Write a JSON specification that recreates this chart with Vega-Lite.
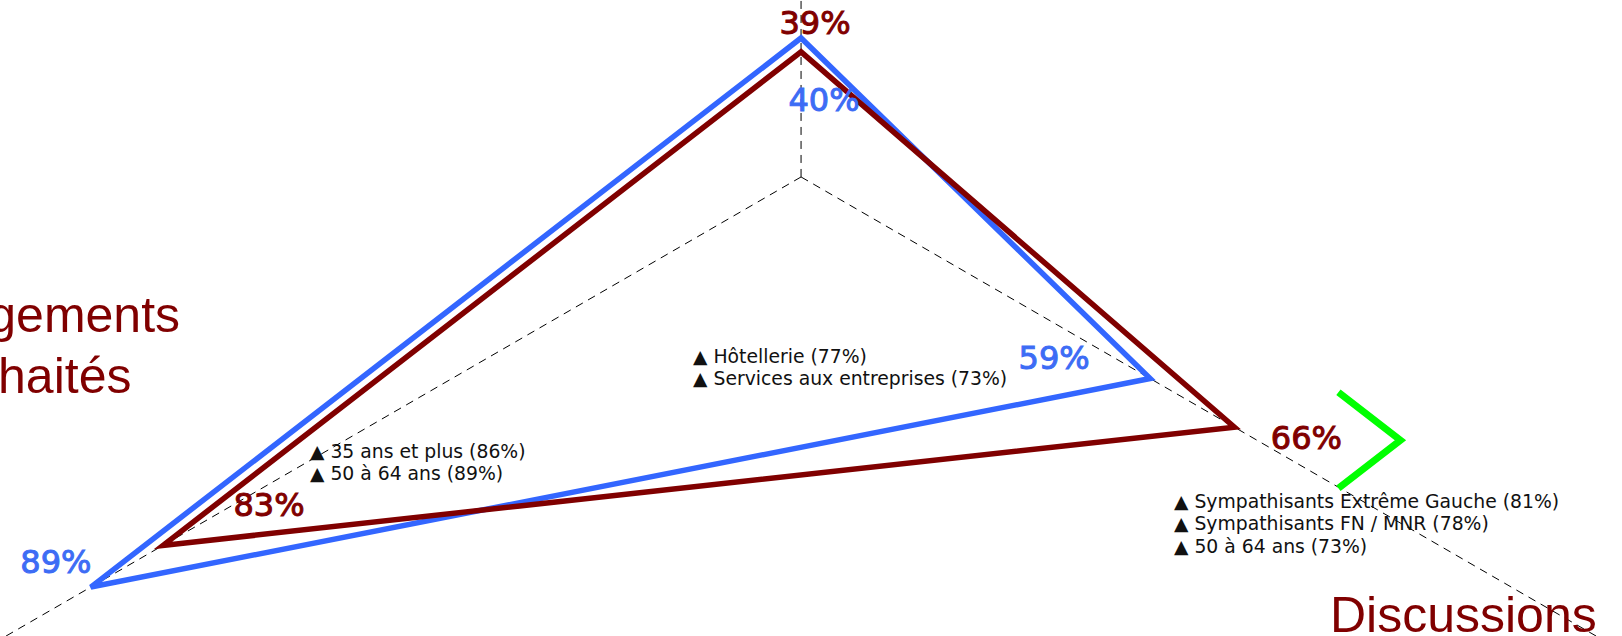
{
  "$schema": "https://vega.github.io/schema/vega-lite/v6.json",
  "width": 1622,
  "height": 636,
  "padding": 0,
  "autosize": {"type": "none"},
  "background": "white",
  "config": {"view": {"stroke": null}},
  "datasets": {
    "axes": [
      {"axe": "haut", "deg": 90, "ordre": 1, "min": 0.3, "max": 1.0, "titre": ""},
      {"axe": "droite", "deg": -30, "ordre": 2, "min": 0.3, "max": 1.0, "titre": "Discussions"},
      {"axe": "gauche", "deg": 210, "ordre": 3, "min": 0.3, "max": 1.0, "titre": "Changements\nsouhaités"}
    ],
    "series": [
      {"serie": "Série 1", "axe": "haut", "valeur": 0.40},
      {"serie": "Série 1", "axe": "droite", "valeur": 0.59},
      {"serie": "Série 1", "axe": "gauche", "valeur": 0.89},
      {"serie": "Série 2", "axe": "haut", "valeur": 0.39},
      {"serie": "Série 2", "axe": "droite", "valeur": 0.66},
      {"serie": "Série 2", "axe": "gauche", "valeur": 0.83}
    ],
    "notes": [
      {"axe": "haut", "texte": "▲ Hôtellerie (77%)\n▲ Services aux entreprises (73%)"},
      {"axe": "gauche", "texte": "▲ 35 ans et plus (86%)\n▲ 50 à 64 ans (89%)"},
      {"axe": "droite", "texte": "▲ Sympathisants Extrême Gauche (81%)\n▲ Sympathisants FN / MNR (78%)\n▲ 50 à 64 ans (73%)"}
    ]
  },
  "layer": [
    {
      "data": {"name": "axes"},
      "transform": [
        {"calculate": "(datum.min - 0.3) * 100", "as": "r0"},
        {"calculate": "(datum.max - 0.3) * 100", "as": "r1"},
        {"calculate": "datum.r0 * cos(datum.deg * PI / 180)", "as": "x"},
        {"calculate": "datum.r0 * sin(datum.deg * PI / 180)", "as": "y"},
        {"calculate": "datum.r1 * cos(datum.deg * PI / 180)", "as": "x2"},
        {"calculate": "datum.r1 * sin(datum.deg * PI / 180)", "as": "y2"}
      ],
      "layer": [
        {
          "mark": {"type": "rule", "stroke": "#000000", "strokeWidth": 1, "strokeDash": [8, 6], "clip": true},
          "encoding": {
            "x": {"field": "x", "type": "quantitative", "scale": {"domain": [-57.63, 59.06], "nice": false, "zero": false}, "axis": null},
            "y": {"field": "y", "type": "quantitative", "scale": {"domain": [-33.02, 12.73], "nice": false, "zero": false}, "axis": null},
            "x2": {"field": "x2"},
            "y2": {"field": "y2"}
          }
        },
        {
          "transform": [{"filter": "datum.axe == 'droite'"}],
          "mark": {"type": "text", "font": "Liberation Sans", "fontSize": 50, "fill": "#800000", "align": "right", "baseline": "alphabetic", "dx": -47, "dy": -31.5, "lineBreak": "\n"},
          "encoding": {
            "x": {"field": "x2", "type": "quantitative"},
            "y": {"field": "y2", "type": "quantitative"},
            "text": {"field": "titre"}
          }
        },
        {
          "transform": [{"filter": "datum.axe == 'gauche'"}],
          "mark": {"type": "text", "font": "Liberation Sans", "fontSize": 50, "fill": "#800000", "align": "center", "baseline": "alphabetic", "dx": 66, "dy": -331.5, "lineBreak": "\n", "lineHeight": 61},
          "encoding": {
            "x": {"field": "x2", "type": "quantitative"},
            "y": {"field": "y2", "type": "quantitative"},
            "text": {"field": "titre"}
          }
        }
      ]
    },
    {
      "data": {"name": "notes"},
      "layer": [
        {
          "transform": [{"filter": "datum.axe == 'haut'"}],
          "mark": {"type": "text", "font": "DejaVu Sans", "fontSize": 18.8, "fill": "#111111", "align": "left", "baseline": "alphabetic", "lineBreak": "\n", "lineHeight": 22.5},
          "encoding": {
            "x": {"datum": -7.77, "type": "quantitative"},
            "y": {"datum": -13.38, "type": "quantitative"},
            "text": {"field": "texte"}
          }
        },
        {
          "transform": [{"filter": "datum.axe == 'gauche'"}],
          "mark": {"type": "text", "font": "DejaVu Sans", "fontSize": 18.8, "fill": "#111111", "align": "left", "baseline": "alphabetic", "lineBreak": "\n", "lineHeight": 22.5},
          "encoding": {
            "x": {"datum": -35.33, "type": "quantitative"},
            "y": {"datum": -20.21, "type": "quantitative"},
            "text": {"field": "texte"}
          }
        },
        {
          "transform": [{"filter": "datum.axe == 'droite'"}],
          "mark": {"type": "text", "font": "DejaVu Sans", "fontSize": 18.8, "fill": "#111111", "align": "left", "baseline": "alphabetic", "lineBreak": "\n", "lineHeight": 22.5},
          "encoding": {
            "x": {"datum": 26.83, "type": "quantitative"},
            "y": {"datum": -23.81, "type": "quantitative"},
            "text": {"field": "texte"}
          }
        }
      ]
    },
    {
      "data": {"name": "series"},
      "transform": [
        {"lookup": "axe", "from": {"data": {"name": "axes"}, "key": "axe", "fields": ["deg", "ordre"]}},
        {"calculate": "(datum.valeur - 0.3) * 100", "as": "r"},
        {"calculate": "datum.r * cos(datum.deg * PI / 180)", "as": "x"},
        {"calculate": "datum.r * sin(datum.deg * PI / 180)", "as": "y"}
      ],
      "encoding": {
        "x": {"field": "x", "type": "quantitative"},
        "y": {"field": "y", "type": "quantitative"}
      },
      "layer": [
        {
          "mark": {"type": "line", "interpolate": "linear-closed", "strokeWidth": 5.5, "strokeJoin": "miter"},
          "encoding": {
            "color": {"field": "serie", "type": "nominal", "scale": {"domain": ["Série 1", "Série 2"], "range": ["#3366ff", "#800000"]}, "legend": null},
            "order": {"field": "ordre", "type": "quantitative"}
          }
        },
        {
          "transform": [{"filter": "datum.serie == 'Série 2' && datum.axe == 'droite'"}],
          "mark": {"type": "point", "shape": "M -0.646 -1 L 0.646 0 L -0.646 1", "size": 9216, "filled": false, "stroke": "#00ff00", "strokeWidth": 7, "strokeJoin": "miter", "opacity": 1, "xOffset": 135, "yOffset": 13}
        },
        {
          "transform": [{"filter": "datum.serie == 'Série 1' && datum.axe == 'haut'"}],
          "mark": {"type": "text", "font": "DejaVu Sans", "fontSize": 32, "fill": "#3d6cf5", "stroke": "#3d6cf5", "strokeWidth": 1, "align": "center", "baseline": "middle", "dx": 23, "dy": 63},
          "encoding": {"text": {"field": "valeur", "type": "quantitative", "format": ".0%"}}
        },
        {
          "transform": [{"filter": "datum.serie == 'Série 1' && datum.axe == 'droite'"}],
          "mark": {"type": "text", "font": "DejaVu Sans", "fontSize": 32, "fill": "#3d6cf5", "stroke": "#3d6cf5", "strokeWidth": 1, "align": "center", "baseline": "middle", "dx": -96, "dy": -20},
          "encoding": {"text": {"field": "valeur", "type": "quantitative", "format": ".0%"}}
        },
        {
          "transform": [{"filter": "datum.serie == 'Série 1' && datum.axe == 'gauche'"}],
          "mark": {"type": "text", "font": "DejaVu Sans", "fontSize": 32, "fill": "#3d6cf5", "stroke": "#3d6cf5", "strokeWidth": 1, "align": "center", "baseline": "middle", "dx": -35, "dy": -24},
          "encoding": {"text": {"field": "valeur", "type": "quantitative", "format": ".0%"}}
        },
        {
          "transform": [{"filter": "datum.serie == 'Série 2' && datum.axe == 'haut'"}],
          "mark": {"type": "text", "font": "DejaVu Sans", "fontSize": 32, "fill": "#800000", "stroke": "#800000", "strokeWidth": 1, "align": "center", "baseline": "middle", "dx": 14, "dy": -28},
          "encoding": {"text": {"field": "valeur", "type": "quantitative", "format": ".0%"}}
        },
        {
          "transform": [{"filter": "datum.serie == 'Série 2' && datum.axe == 'droite'"}],
          "mark": {"type": "text", "font": "DejaVu Sans", "fontSize": 32, "fill": "#800000", "stroke": "#800000", "strokeWidth": 1, "align": "center", "baseline": "middle", "dx": 72, "dy": 12},
          "encoding": {"text": {"field": "valeur", "type": "quantitative", "format": ".0%"}}
        },
        {
          "transform": [{"filter": "datum.serie == 'Série 2' && datum.axe == 'gauche'"}],
          "mark": {"type": "text", "font": "DejaVu Sans", "fontSize": 32, "fill": "#800000", "stroke": "#800000", "strokeWidth": 1, "align": "center", "baseline": "middle", "dx": 106, "dy": -39},
          "encoding": {"text": {"field": "valeur", "type": "quantitative", "format": ".0%"}}
        }
      ]
    }
  ]
}
